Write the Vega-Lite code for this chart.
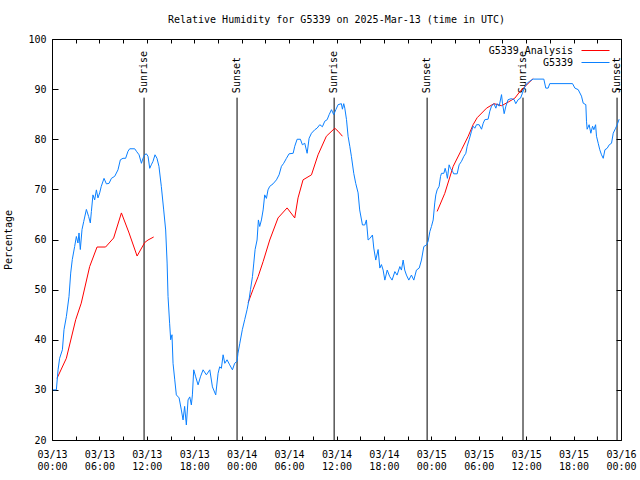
{
  "$schema": "https://vega.github.io/schema/vega-lite/v6.json",
  "width": 569,
  "height": 401,
  "autosize": "none",
  "padding": {"left": 52, "top": 39, "right": 19, "bottom": 40},
  "background": "white",
  "config": {
    "view": {"stroke": "black", "strokeWidth": 1},
    "font": "DejaVu Sans Mono",
    "axis": {"labelFont": "DejaVu Sans Mono", "labelFontSize": 10, "labelColor": "black", "titleFont": "DejaVu Sans Mono", "titleFontSize": 10, "titleFontWeight": "normal", "titleColor": "black", "tickColor": "black", "grid": false, "domain": false},
    "legend": {"orient": "none", "title": null, "symbolType": "stroke", "symbolSize": 784, "symbolStrokeWidth": 1, "labelAlign": "right", "labelOffset": -37, "labelFont": "DejaVu Sans Mono", "labelFontSize": 10, "labelColor": "black", "padding": 0}
  },
  "title": {"text": "Relative Humidity for G5339 on 2025-Mar-13 (time in UTC)", "fontSize": 10, "fontWeight": "normal", "font": "DejaVu Sans Mono", "color": "black", "offset": 9, "anchor": "middle"},
  "datasets": {
    "sun": [
      {"t": "2025-03-13T11:39:00Z", "label": "Sunrise"},
      {"t": "2025-03-13T23:25:00Z", "label": "Sunset"},
      {"t": "2025-03-14T11:42:00Z", "label": "Sunrise"},
      {"t": "2025-03-14T23:28:00Z", "label": "Sunset"},
      {"t": "2025-03-15T11:36:00Z", "label": "Sunrise"},
      {"t": "2025-03-15T23:30:00Z", "label": "Sunset"}
    ],
    "ana": [
      {"t": "2025-03-13T00:38:00Z", "v": 32.3, "seg": 1},
      {"t": "2025-03-13T01:49:00Z", "v": 36.3, "seg": 1},
      {"t": "2025-03-13T03:00:00Z", "v": 44, "seg": 1},
      {"t": "2025-03-13T03:42:00Z", "v": 47.3, "seg": 1},
      {"t": "2025-03-13T04:46:00Z", "v": 54.6, "seg": 1},
      {"t": "2025-03-13T05:42:00Z", "v": 58.5, "seg": 1},
      {"t": "2025-03-13T06:47:00Z", "v": 58.5, "seg": 1},
      {"t": "2025-03-13T07:48:00Z", "v": 60.3, "seg": 1},
      {"t": "2025-03-13T08:47:00Z", "v": 65.3, "seg": 1},
      {"t": "2025-03-13T09:45:00Z", "v": 61.3, "seg": 1},
      {"t": "2025-03-13T10:46:00Z", "v": 56.7, "seg": 1},
      {"t": "2025-03-13T11:44:00Z", "v": 59.4, "seg": 1},
      {"t": "2025-03-13T12:09:00Z", "v": 59.9, "seg": 1},
      {"t": "2025-03-13T12:52:00Z", "v": 60.5, "seg": 1},
      {"t": "2025-03-14T00:49:00Z", "v": 47.4, "seg": 2},
      {"t": "2025-03-14T01:26:00Z", "v": 50, "seg": 2},
      {"t": "2025-03-14T02:05:00Z", "v": 52.6, "seg": 2},
      {"t": "2025-03-14T02:43:00Z", "v": 55.6, "seg": 2},
      {"t": "2025-03-14T03:33:00Z", "v": 59.9, "seg": 2},
      {"t": "2025-03-14T04:36:00Z", "v": 64.3, "seg": 2},
      {"t": "2025-03-14T05:45:00Z", "v": 66.3, "seg": 2},
      {"t": "2025-03-14T06:43:00Z", "v": 64.3, "seg": 2},
      {"t": "2025-03-14T07:08:00Z", "v": 68.3, "seg": 2},
      {"t": "2025-03-14T07:46:00Z", "v": 71.9, "seg": 2},
      {"t": "2025-03-14T08:50:00Z", "v": 72.9, "seg": 2},
      {"t": "2025-03-14T09:40:00Z", "v": 76.9, "seg": 2},
      {"t": "2025-03-14T10:43:00Z", "v": 80.6, "seg": 2},
      {"t": "2025-03-14T11:47:00Z", "v": 82.2, "seg": 2},
      {"t": "2025-03-14T12:12:00Z", "v": 81.6, "seg": 2},
      {"t": "2025-03-14T12:45:00Z", "v": 80.6, "seg": 2},
      {"t": "2025-03-15T00:44:00Z", "v": 65.6, "seg": 3},
      {"t": "2025-03-15T01:42:00Z", "v": 69.2, "seg": 3},
      {"t": "2025-03-15T02:46:00Z", "v": 74.6, "seg": 3},
      {"t": "2025-03-15T03:49:00Z", "v": 77.9, "seg": 3},
      {"t": "2025-03-15T04:40:00Z", "v": 80.6, "seg": 3},
      {"t": "2025-03-15T05:17:00Z", "v": 82.9, "seg": 3},
      {"t": "2025-03-15T05:48:00Z", "v": 84.3, "seg": 3},
      {"t": "2025-03-15T06:59:00Z", "v": 86.2, "seg": 3},
      {"t": "2025-03-15T07:55:00Z", "v": 87.1, "seg": 3},
      {"t": "2025-03-15T08:53:00Z", "v": 86.7, "seg": 3},
      {"t": "2025-03-15T09:43:00Z", "v": 87.4, "seg": 3},
      {"t": "2025-03-15T10:34:00Z", "v": 88.2, "seg": 3},
      {"t": "2025-03-15T11:12:00Z", "v": 89.5, "seg": 3},
      {"t": "2025-03-15T12:02:00Z", "v": 90.8, "seg": 3},
      {"t": "2025-03-15T12:53:00Z", "v": 92.1, "seg": 3}
    ],
    "obs": [
      {"t": "2025-03-13T00:08:00Z", "v": 30},
      {"t": "2025-03-13T00:33:00Z", "v": 30},
      {"t": "2025-03-13T00:46:00Z", "v": 34},
      {"t": "2025-03-13T00:58:00Z", "v": 36.3},
      {"t": "2025-03-13T01:19:00Z", "v": 38},
      {"t": "2025-03-13T01:31:00Z", "v": 42},
      {"t": "2025-03-13T01:49:00Z", "v": 44.6},
      {"t": "2025-03-13T02:09:00Z", "v": 48.6},
      {"t": "2025-03-13T02:22:00Z", "v": 53.3},
      {"t": "2025-03-13T02:34:00Z", "v": 56},
      {"t": "2025-03-13T02:52:00Z", "v": 58.6},
      {"t": "2025-03-13T03:05:00Z", "v": 60.6},
      {"t": "2025-03-13T03:17:00Z", "v": 59.3},
      {"t": "2025-03-13T03:25:00Z", "v": 61.3},
      {"t": "2025-03-13T03:35:00Z", "v": 58},
      {"t": "2025-03-13T03:48:00Z", "v": 62},
      {"t": "2025-03-13T04:01:00Z", "v": 63.6},
      {"t": "2025-03-13T04:21:00Z", "v": 66},
      {"t": "2025-03-13T04:38:00Z", "v": 64.6},
      {"t": "2025-03-13T04:51:00Z", "v": 63.3},
      {"t": "2025-03-13T04:59:00Z", "v": 65.6},
      {"t": "2025-03-13T05:11:00Z", "v": 68.9},
      {"t": "2025-03-13T05:24:00Z", "v": 67.9},
      {"t": "2025-03-13T05:37:00Z", "v": 69.9},
      {"t": "2025-03-13T05:49:00Z", "v": 68.3},
      {"t": "2025-03-13T06:02:00Z", "v": 69.3},
      {"t": "2025-03-13T06:14:00Z", "v": 70.6},
      {"t": "2025-03-13T06:35:00Z", "v": 72.2},
      {"t": "2025-03-13T06:53:00Z", "v": 71.1},
      {"t": "2025-03-13T07:13:00Z", "v": 71.2},
      {"t": "2025-03-13T07:31:00Z", "v": 72.2},
      {"t": "2025-03-13T07:56:00Z", "v": 72.6},
      {"t": "2025-03-13T08:21:00Z", "v": 73.9},
      {"t": "2025-03-13T08:39:00Z", "v": 75.9},
      {"t": "2025-03-13T08:59:00Z", "v": 76.2},
      {"t": "2025-03-13T09:19:00Z", "v": 76.2},
      {"t": "2025-03-13T09:37:00Z", "v": 77.6},
      {"t": "2025-03-13T09:50:00Z", "v": 78.1},
      {"t": "2025-03-13T10:28:00Z", "v": 78.1},
      {"t": "2025-03-13T10:41:00Z", "v": 77.6},
      {"t": "2025-03-13T11:01:00Z", "v": 76.9},
      {"t": "2025-03-13T11:19:00Z", "v": 75.2},
      {"t": "2025-03-13T11:31:00Z", "v": 76.2},
      {"t": "2025-03-13T11:44:00Z", "v": 76.9},
      {"t": "2025-03-13T11:56:00Z", "v": 77.1},
      {"t": "2025-03-13T12:09:00Z", "v": 76.6},
      {"t": "2025-03-13T12:22:00Z", "v": 74.2},
      {"t": "2025-03-13T12:34:00Z", "v": 74.9},
      {"t": "2025-03-13T12:47:00Z", "v": 75.6},
      {"t": "2025-03-13T13:02:00Z", "v": 76.9},
      {"t": "2025-03-13T13:17:00Z", "v": 76.2},
      {"t": "2025-03-13T13:32:00Z", "v": 74.6},
      {"t": "2025-03-13T13:50:00Z", "v": 70.6},
      {"t": "2025-03-13T14:08:00Z", "v": 65.9},
      {"t": "2025-03-13T14:23:00Z", "v": 61.9},
      {"t": "2025-03-13T14:34:00Z", "v": 55.3},
      {"t": "2025-03-13T14:41:00Z", "v": 48.6},
      {"t": "2025-03-13T14:53:00Z", "v": 43.3},
      {"t": "2025-03-13T15:01:00Z", "v": 40},
      {"t": "2025-03-13T15:11:00Z", "v": 41},
      {"t": "2025-03-13T15:19:00Z", "v": 35.3},
      {"t": "2025-03-13T15:32:00Z", "v": 32},
      {"t": "2025-03-13T15:44:00Z", "v": 29},
      {"t": "2025-03-13T16:05:00Z", "v": 28.4},
      {"t": "2025-03-13T16:22:00Z", "v": 26},
      {"t": "2025-03-13T16:35:00Z", "v": 24},
      {"t": "2025-03-13T16:47:00Z", "v": 26.7},
      {"t": "2025-03-13T17:00:00Z", "v": 23},
      {"t": "2025-03-13T17:13:00Z", "v": 28},
      {"t": "2025-03-13T17:26:00Z", "v": 28.6},
      {"t": "2025-03-13T17:38:00Z", "v": 27},
      {"t": "2025-03-13T17:46:00Z", "v": 29},
      {"t": "2025-03-13T17:56:00Z", "v": 34},
      {"t": "2025-03-13T18:11:00Z", "v": 32.6},
      {"t": "2025-03-13T18:29:00Z", "v": 31},
      {"t": "2025-03-13T18:47:00Z", "v": 32.6},
      {"t": "2025-03-13T19:07:00Z", "v": 34},
      {"t": "2025-03-13T19:32:00Z", "v": 33},
      {"t": "2025-03-13T19:58:00Z", "v": 34},
      {"t": "2025-03-13T20:18:00Z", "v": 30.6},
      {"t": "2025-03-13T20:43:00Z", "v": 29},
      {"t": "2025-03-13T21:01:00Z", "v": 33.3},
      {"t": "2025-03-13T21:13:00Z", "v": 34.6},
      {"t": "2025-03-13T21:26:00Z", "v": 34.3},
      {"t": "2025-03-13T21:39:00Z", "v": 37},
      {"t": "2025-03-13T21:52:00Z", "v": 35.3},
      {"t": "2025-03-13T22:09:00Z", "v": 36},
      {"t": "2025-03-13T22:29:00Z", "v": 35},
      {"t": "2025-03-13T22:50:00Z", "v": 34},
      {"t": "2025-03-13T23:07:00Z", "v": 35.3},
      {"t": "2025-03-13T23:25:00Z", "v": 35.7},
      {"t": "2025-03-13T23:32:00Z", "v": 37.3},
      {"t": "2025-03-13T23:46:00Z", "v": 39.3},
      {"t": "2025-03-14T00:05:00Z", "v": 42},
      {"t": "2025-03-14T00:23:00Z", "v": 44},
      {"t": "2025-03-14T00:41:00Z", "v": 46},
      {"t": "2025-03-14T00:56:00Z", "v": 48},
      {"t": "2025-03-14T01:07:00Z", "v": 50},
      {"t": "2025-03-14T01:22:00Z", "v": 52.6},
      {"t": "2025-03-14T01:32:00Z", "v": 55.3},
      {"t": "2025-03-14T01:42:00Z", "v": 58},
      {"t": "2025-03-14T01:57:00Z", "v": 59.9},
      {"t": "2025-03-14T02:07:00Z", "v": 63.9},
      {"t": "2025-03-14T02:17:00Z", "v": 62.6},
      {"t": "2025-03-14T02:30:00Z", "v": 63.9},
      {"t": "2025-03-14T02:43:00Z", "v": 65.9},
      {"t": "2025-03-14T02:55:00Z", "v": 68.9},
      {"t": "2025-03-14T03:08:00Z", "v": 68.2},
      {"t": "2025-03-14T03:20:00Z", "v": 69.9},
      {"t": "2025-03-14T03:33:00Z", "v": 70.6},
      {"t": "2025-03-14T03:58:00Z", "v": 71.1},
      {"t": "2025-03-14T04:24:00Z", "v": 71.9},
      {"t": "2025-03-14T04:44:00Z", "v": 72.9},
      {"t": "2025-03-14T05:02:00Z", "v": 74.6},
      {"t": "2025-03-14T05:19:00Z", "v": 75.2},
      {"t": "2025-03-14T05:40:00Z", "v": 76.2},
      {"t": "2025-03-14T06:00:00Z", "v": 77.1},
      {"t": "2025-03-14T06:31:00Z", "v": 77.2},
      {"t": "2025-03-14T06:43:00Z", "v": 78.6},
      {"t": "2025-03-14T07:01:00Z", "v": 80},
      {"t": "2025-03-14T07:26:00Z", "v": 80},
      {"t": "2025-03-14T07:41:00Z", "v": 78.9},
      {"t": "2025-03-14T07:59:00Z", "v": 79.2},
      {"t": "2025-03-14T08:17:00Z", "v": 77.2},
      {"t": "2025-03-14T08:32:00Z", "v": 80.2},
      {"t": "2025-03-14T08:50:00Z", "v": 81.2},
      {"t": "2025-03-14T09:15:00Z", "v": 81.9},
      {"t": "2025-03-14T09:32:00Z", "v": 82.2},
      {"t": "2025-03-14T09:53:00Z", "v": 82.9},
      {"t": "2025-03-14T10:13:00Z", "v": 82.5},
      {"t": "2025-03-14T10:31:00Z", "v": 83.6},
      {"t": "2025-03-14T10:49:00Z", "v": 83.9},
      {"t": "2025-03-14T11:04:00Z", "v": 84.9},
      {"t": "2025-03-14T11:22:00Z", "v": 85.9},
      {"t": "2025-03-14T11:39:00Z", "v": 84.9},
      {"t": "2025-03-14T11:55:00Z", "v": 85.9},
      {"t": "2025-03-14T12:12:00Z", "v": 86.9},
      {"t": "2025-03-14T12:37:00Z", "v": 87.1},
      {"t": "2025-03-14T12:45:00Z", "v": 86},
      {"t": "2025-03-14T12:55:00Z", "v": 87.1},
      {"t": "2025-03-14T13:03:00Z", "v": 86.2},
      {"t": "2025-03-14T13:16:00Z", "v": 83.9},
      {"t": "2025-03-14T13:28:00Z", "v": 80.6},
      {"t": "2025-03-14T13:41:00Z", "v": 78.6},
      {"t": "2025-03-14T13:53:00Z", "v": 76.6},
      {"t": "2025-03-14T14:11:00Z", "v": 73.2},
      {"t": "2025-03-14T14:26:00Z", "v": 71.2},
      {"t": "2025-03-14T14:44:00Z", "v": 69.3},
      {"t": "2025-03-14T14:56:00Z", "v": 65.9},
      {"t": "2025-03-14T15:17:00Z", "v": 62.9},
      {"t": "2025-03-14T15:35:00Z", "v": 62.9},
      {"t": "2025-03-14T15:47:00Z", "v": 63.9},
      {"t": "2025-03-14T16:00:00Z", "v": 59.9},
      {"t": "2025-03-14T16:13:00Z", "v": 60.2},
      {"t": "2025-03-14T16:33:00Z", "v": 60.9},
      {"t": "2025-03-14T16:43:00Z", "v": 58.3},
      {"t": "2025-03-14T16:58:00Z", "v": 55.9},
      {"t": "2025-03-14T17:16:00Z", "v": 58},
      {"t": "2025-03-14T17:29:00Z", "v": 54.3},
      {"t": "2025-03-14T17:41:00Z", "v": 55},
      {"t": "2025-03-14T17:54:00Z", "v": 53.9},
      {"t": "2025-03-14T18:07:00Z", "v": 51.9},
      {"t": "2025-03-14T18:25:00Z", "v": 53.9},
      {"t": "2025-03-14T18:44:00Z", "v": 52.6},
      {"t": "2025-03-14T19:02:00Z", "v": 51.9},
      {"t": "2025-03-14T19:23:00Z", "v": 53.6},
      {"t": "2025-03-14T19:40:00Z", "v": 52.9},
      {"t": "2025-03-14T20:01:00Z", "v": 54.6},
      {"t": "2025-03-14T20:13:00Z", "v": 53.9},
      {"t": "2025-03-14T20:26:00Z", "v": 55.9},
      {"t": "2025-03-14T20:38:00Z", "v": 53.9},
      {"t": "2025-03-14T20:51:00Z", "v": 52.9},
      {"t": "2025-03-14T21:09:00Z", "v": 51.9},
      {"t": "2025-03-14T21:29:00Z", "v": 52.9},
      {"t": "2025-03-14T21:47:00Z", "v": 51.9},
      {"t": "2025-03-14T22:07:00Z", "v": 53.9},
      {"t": "2025-03-14T22:28:00Z", "v": 54.3},
      {"t": "2025-03-14T22:45:00Z", "v": 55.9},
      {"t": "2025-03-14T23:03:00Z", "v": 58.6},
      {"t": "2025-03-14T23:23:00Z", "v": 58.9},
      {"t": "2025-03-14T23:35:00Z", "v": 59.6},
      {"t": "2025-03-14T23:49:00Z", "v": 61.6},
      {"t": "2025-03-15T00:01:00Z", "v": 62.6},
      {"t": "2025-03-15T00:14:00Z", "v": 63.9},
      {"t": "2025-03-15T00:26:00Z", "v": 67.3},
      {"t": "2025-03-15T00:34:00Z", "v": 68.9},
      {"t": "2025-03-15T00:44:00Z", "v": 69.9},
      {"t": "2025-03-15T00:59:00Z", "v": 70.6},
      {"t": "2025-03-15T01:10:00Z", "v": 72.6},
      {"t": "2025-03-15T01:17:00Z", "v": 73.2},
      {"t": "2025-03-15T01:35:00Z", "v": 73.2},
      {"t": "2025-03-15T01:45:00Z", "v": 74.2},
      {"t": "2025-03-15T01:55:00Z", "v": 73.2},
      {"t": "2025-03-15T02:02:00Z", "v": 72.2},
      {"t": "2025-03-15T02:15:00Z", "v": 74.9},
      {"t": "2025-03-15T02:25:00Z", "v": 74.2},
      {"t": "2025-03-15T02:41:00Z", "v": 73.6},
      {"t": "2025-03-15T02:50:00Z", "v": 73.1},
      {"t": "2025-03-15T03:16:00Z", "v": 73.1},
      {"t": "2025-03-15T03:31:00Z", "v": 74.9},
      {"t": "2025-03-15T03:49:00Z", "v": 75.6},
      {"t": "2025-03-15T04:07:00Z", "v": 76.6},
      {"t": "2025-03-15T04:22:00Z", "v": 77.2},
      {"t": "2025-03-15T04:32:00Z", "v": 78.6},
      {"t": "2025-03-15T04:47:00Z", "v": 79.9},
      {"t": "2025-03-15T05:05:00Z", "v": 81.6},
      {"t": "2025-03-15T05:17:00Z", "v": 82.6},
      {"t": "2025-03-15T05:30:00Z", "v": 82.2},
      {"t": "2025-03-15T05:43:00Z", "v": 82.9},
      {"t": "2025-03-15T06:03:00Z", "v": 82.9},
      {"t": "2025-03-15T06:21:00Z", "v": 82},
      {"t": "2025-03-15T06:34:00Z", "v": 83.2},
      {"t": "2025-03-15T06:46:00Z", "v": 83.9},
      {"t": "2025-03-15T07:11:00Z", "v": 84},
      {"t": "2025-03-15T07:24:00Z", "v": 85.6},
      {"t": "2025-03-15T07:37:00Z", "v": 86.6},
      {"t": "2025-03-15T07:55:00Z", "v": 87.1},
      {"t": "2025-03-15T08:10:00Z", "v": 86.2},
      {"t": "2025-03-15T08:20:00Z", "v": 87.1},
      {"t": "2025-03-15T08:35:00Z", "v": 86.6},
      {"t": "2025-03-15T08:53:00Z", "v": 88.9},
      {"t": "2025-03-15T09:00:00Z", "v": 87.2},
      {"t": "2025-03-15T09:13:00Z", "v": 85.1},
      {"t": "2025-03-15T09:26:00Z", "v": 86.6},
      {"t": "2025-03-15T09:43:00Z", "v": 87.9},
      {"t": "2025-03-15T10:08:00Z", "v": 88.1},
      {"t": "2025-03-15T10:29:00Z", "v": 87.9},
      {"t": "2025-03-15T10:41:00Z", "v": 87.1},
      {"t": "2025-03-15T10:59:00Z", "v": 87.9},
      {"t": "2025-03-15T11:17:00Z", "v": 88.2},
      {"t": "2025-03-15T11:32:00Z", "v": 89.2},
      {"t": "2025-03-15T11:50:00Z", "v": 90.5},
      {"t": "2025-03-15T12:08:00Z", "v": 91.2},
      {"t": "2025-03-15T12:28:00Z", "v": 91.6},
      {"t": "2025-03-15T12:53:00Z", "v": 92},
      {"t": "2025-03-15T14:14:00Z", "v": 92},
      {"t": "2025-03-15T14:29:00Z", "v": 90.2},
      {"t": "2025-03-15T14:47:00Z", "v": 90.2},
      {"t": "2025-03-15T14:59:00Z", "v": 91.1},
      {"t": "2025-03-15T17:52:00Z", "v": 91.1},
      {"t": "2025-03-15T18:10:00Z", "v": 90.2},
      {"t": "2025-03-15T18:35:00Z", "v": 89.9},
      {"t": "2025-03-15T19:00:00Z", "v": 88.6},
      {"t": "2025-03-15T19:13:00Z", "v": 87.2},
      {"t": "2025-03-15T19:33:00Z", "v": 86.9},
      {"t": "2025-03-15T19:38:00Z", "v": 83.6},
      {"t": "2025-03-15T19:43:00Z", "v": 82},
      {"t": "2025-03-15T19:58:00Z", "v": 82.9},
      {"t": "2025-03-15T20:11:00Z", "v": 81.2},
      {"t": "2025-03-15T20:24:00Z", "v": 82.6},
      {"t": "2025-03-15T20:34:00Z", "v": 81.9},
      {"t": "2025-03-15T20:47:00Z", "v": 82.9},
      {"t": "2025-03-15T20:54:00Z", "v": 80.6},
      {"t": "2025-03-15T21:07:00Z", "v": 79.2},
      {"t": "2025-03-15T21:19:00Z", "v": 77.9},
      {"t": "2025-03-15T21:32:00Z", "v": 76.9},
      {"t": "2025-03-15T21:45:00Z", "v": 76.2},
      {"t": "2025-03-15T21:58:00Z", "v": 77.9},
      {"t": "2025-03-15T22:15:00Z", "v": 78.2},
      {"t": "2025-03-15T22:31:00Z", "v": 78.9},
      {"t": "2025-03-15T22:48:00Z", "v": 79.2},
      {"t": "2025-03-15T23:01:00Z", "v": 81.2},
      {"t": "2025-03-15T23:19:00Z", "v": 82.2},
      {"t": "2025-03-15T23:31:00Z", "v": 82.9},
      {"t": "2025-03-15T23:46:00Z", "v": 84}
    ]
  },
  "layer": [
    {
      "data": {"name": "sun"},
      "mark": {"type": "rule", "color": "black", "strokeWidth": 1},
      "encoding": {
        "x": {"field": "t", "type": "temporal",
          "scale": {"type": "utc", "domain": [1741824000000, 1742083200000], "nice": false},
          "axis": {"orient": "bottom", "title": null, "tickCount": 36, "tickSize": -4, "labelPadding": 13, "labelLineHeight": 12, "labelAlign": "center", "labelOverlap": false, "labelFlush": false,
            "labelExpr": "utchours(datum.value) % 6 == 0 ? [utcFormat(datum.value, '%m/%d'), utcFormat(datum.value, '%H:%M')] : ''"}},
        "y": {"datum": 20, "type": "quantitative",
          "scale": {"domain": [20, 100], "nice": false, "zero": false},
          "axis": {"orient": "left", "title": "Percentage", "values": [20, 30, 40, 50, 60, 70, 80, 90, 100], "tickSize": -6, "labelPadding": 12, "titlePadding": 14}},
        "y2": {"datum": 88.3}
      }
    },
    {
      "data": {"name": "sun"},
      "mark": {"type": "text", "angle": 270, "align": "left", "baseline": "middle", "fontSize": 10, "font": "DejaVu Sans Mono", "color": "black"},
      "encoding": {
        "x": {"field": "t", "type": "temporal",
          "axis": {"orient": "top", "title": null, "labels": false, "tickCount": 36, "tickSize": -4}},
        "y": {"datum": 89.2, "type": "quantitative",
          "axis": {"orient": "right", "title": null, "labels": false, "values": [20, 30, 40, 50, 60, 70, 80, 90, 100], "tickSize": -5}},
        "text": {"field": "label"}
      }
    },
    {
      "data": {"name": "ana"},
      "mark": {"type": "line", "strokeWidth": 1},
      "encoding": {
        "x": {"field": "t", "type": "temporal", "axis": null},
        "y": {"field": "v", "type": "quantitative", "axis": null},
        "detail": {"field": "seg", "type": "nominal"},
        "color": {"datum": "G5339 Analysis", "type": "nominal",
          "scale": {"domain": ["G5339 Analysis"], "range": ["#ff0000"]},
          "legend": {"legendX": 529, "legendY": -3}}
      }
    },
    {
      "data": {"name": "obs"},
      "mark": {"type": "line", "strokeWidth": 1},
      "encoding": {
        "x": {"field": "t", "type": "temporal", "axis": null},
        "y": {"field": "v", "type": "quantitative", "axis": null},
        "stroke": {"datum": "G5339", "type": "nominal",
          "scale": {"domain": ["G5339"], "range": ["#0a80ff"]},
          "legend": {"legendX": 529, "legendY": 9}}
      }
    }
  ],
  "resolve": {"axis": {"x": "independent", "y": "independent"}}
}
